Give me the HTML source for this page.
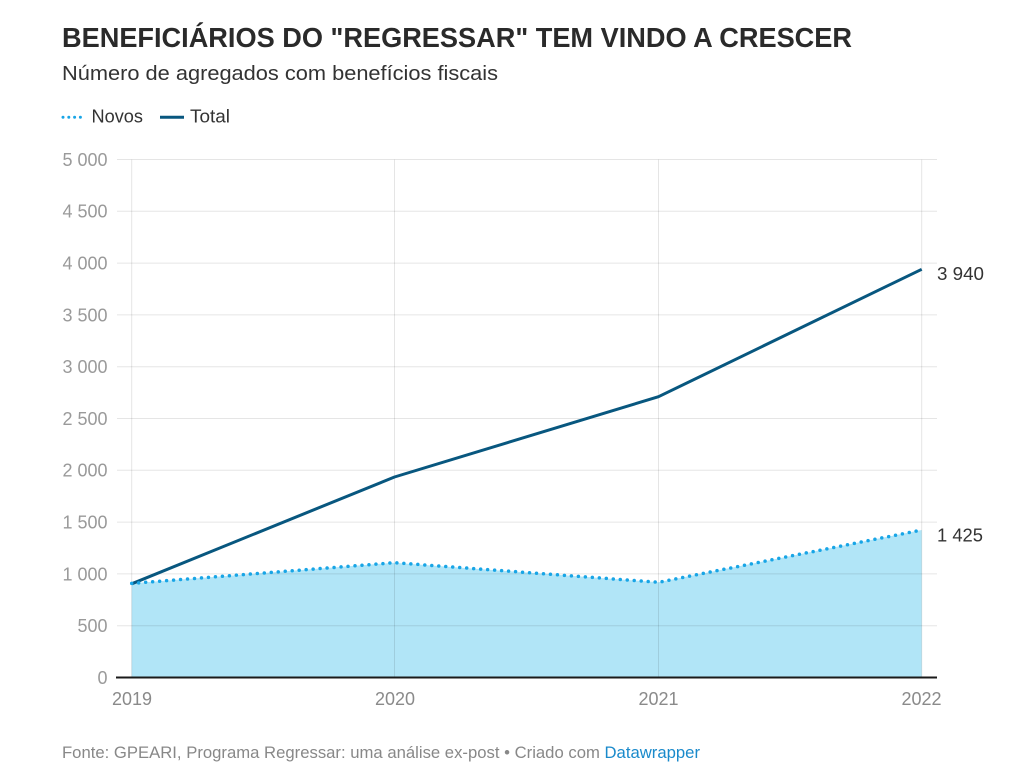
<!DOCTYPE html>
<html><head><meta charset="utf-8"><style>
html,body{margin:0;padding:0;background:#fff;}
svg{display:block;}
</style></head><body>
<svg width="1021" height="781" viewBox="0 0 1021 781" xmlns="http://www.w3.org/2000/svg" font-family="Liberation Sans, sans-serif">
<text x="62" y="47" font-size="28" font-weight="bold" fill="#2a2a2a" textLength="790" lengthAdjust="spacingAndGlyphs">BENEFICIÁRIOS DO "REGRESSAR" TEM VINDO A CRESCER</text>
<text x="62" y="80" font-size="20.5" fill="#333" textLength="436" lengthAdjust="spacingAndGlyphs">Número de agregados com benefícios fiscais</text>
<line x1="63" y1="117.3" x2="85" y2="117.3" stroke="#18a5e6" stroke-width="3" stroke-dasharray="0 5.8" stroke-linecap="round"/>
<text x="91.5" y="122.7" font-size="18" fill="#333" textLength="51.5" lengthAdjust="spacingAndGlyphs">Novos</text>
<line x1="160" y1="117.3" x2="184" y2="117.3" stroke="#08577f" stroke-width="3"/>
<text x="190" y="122.7" font-size="18" fill="#333" textLength="40" lengthAdjust="spacingAndGlyphs">Total</text>
<!-- area -->
<polygon points="131.7,583.4 394.5,562.7 658.5,582.3 921.7,530 921.7,677.5 131.7,677.5" fill="#b1e5f7"/>
<!-- grid -->
<g stroke="#000" stroke-opacity="0.1" stroke-width="1">
<line x1="117" y1="159.5" x2="937" y2="159.5"/>
<line x1="117" y1="211.3" x2="937" y2="211.3"/>
<line x1="117" y1="263.1" x2="937" y2="263.1"/>
<line x1="117" y1="314.9" x2="937" y2="314.9"/>
<line x1="117" y1="366.7" x2="937" y2="366.7"/>
<line x1="117" y1="418.5" x2="937" y2="418.5"/>
<line x1="117" y1="470.3" x2="937" y2="470.3"/>
<line x1="117" y1="522.1" x2="937" y2="522.1"/>
<line x1="117" y1="573.9" x2="937" y2="573.9"/>
<line x1="117" y1="625.7" x2="937" y2="625.7"/>
<line x1="131.7" y1="159.5" x2="131.7" y2="677"/>
<line x1="394.5" y1="159.5" x2="394.5" y2="677"/>
<line x1="658.5" y1="159.5" x2="658.5" y2="677"/>
<line x1="921.7" y1="159.5" x2="921.7" y2="677"/>
</g>
<line x1="116" y1="677.5" x2="937" y2="677.5" stroke="#1a1a1a" stroke-width="2"/>
<g font-size="18" fill="#9a9a9a" text-anchor="end">
<text x="107.5" y="165.9">5 000</text>
<text x="107.5" y="217.7">4 500</text>
<text x="107.5" y="269.5">4 000</text>
<text x="107.5" y="321.3">3 500</text>
<text x="107.5" y="373.1">3 000</text>
<text x="107.5" y="424.9">2 500</text>
<text x="107.5" y="476.7">2 000</text>
<text x="107.5" y="528.5">1 500</text>
<text x="107.5" y="580.3">1 000</text>
<text x="107.5" y="632.1">500</text>
<text x="107.5" y="683.9">0</text>
</g>
<g font-size="18" fill="#8a8a8a" text-anchor="middle">
<text x="132" y="705">2019</text>
<text x="395" y="705">2020</text>
<text x="658.5" y="705">2021</text>
<text x="921.5" y="705">2022</text>
</g>
<!-- lines -->
<polyline points="131.7,583.8 394.5,477 658.5,396.7 921.7,269.3" fill="none" stroke="#08577f" stroke-width="3" stroke-linejoin="round"/>
<polyline points="131.7,583.4 394.5,562.7 658.5,582.3 921.7,530" fill="none" stroke="#18a5e6" stroke-width="3.5" stroke-dasharray="0 7" stroke-linecap="round" stroke-linejoin="round"/>
<text x="937" y="280" font-size="18" fill="#333" textLength="47" lengthAdjust="spacingAndGlyphs">3 940</text>
<text x="937" y="541.5" font-size="18" fill="#333" textLength="46" lengthAdjust="spacingAndGlyphs">1 425</text>
<text x="62" y="758" font-size="16.5" fill="#888" textLength="638" lengthAdjust="spacingAndGlyphs">Fonte: GPEARI, Programa Regressar: uma análise ex-post • Criado com <tspan fill="#1a8acb">Datawrapper</tspan></text>
</svg>
</body></html>
